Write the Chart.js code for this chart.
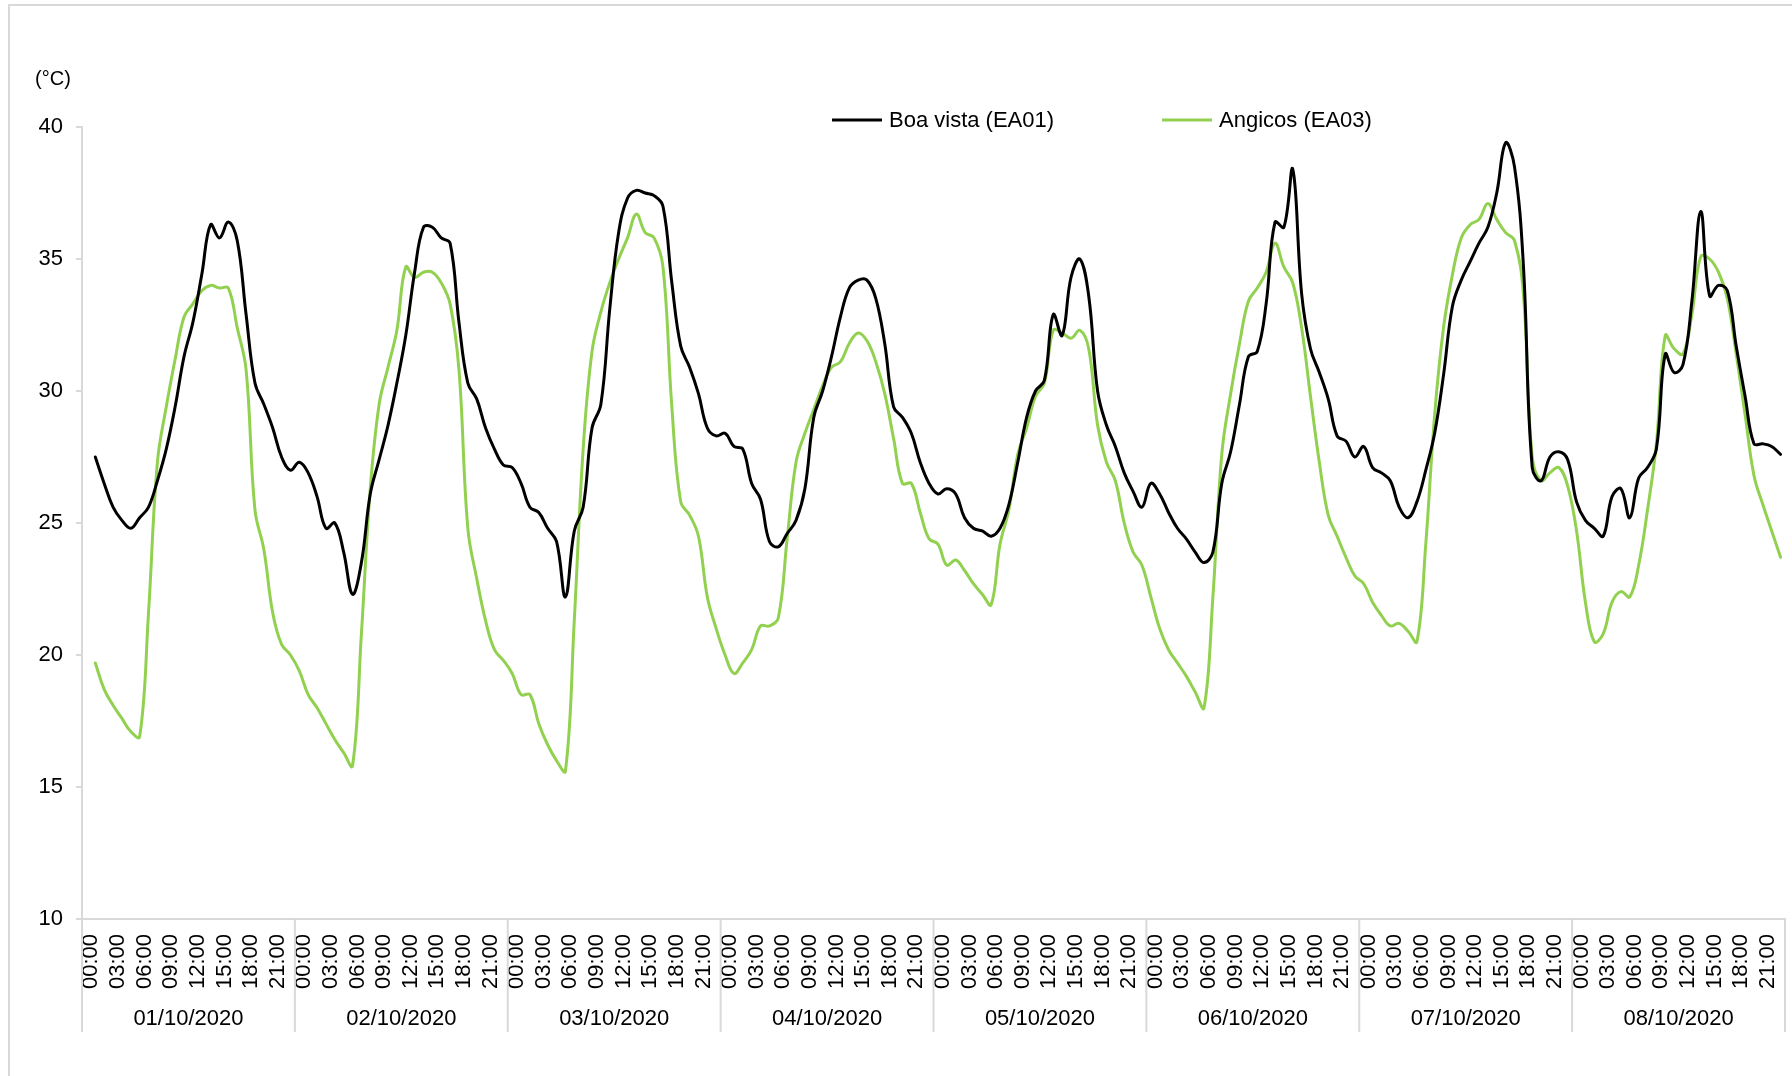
<!DOCTYPE html>
<html>
<head>
<meta charset="utf-8">
<script src="https://cdn.jsdelivr.net/npm/chart.js@4.4.1/dist/chart.umd.min.js"></script>
<style>
  html, body { margin: 0; padding: 0; background: #ffffff; }
  canvas { display: block; }
</style>
</head>
<body>
<canvas id="chart" width="1792" height="1076"></canvas>
<script>
// Hourly air temperature, 01–08 Oct 2020
const days = ['01/10/2020', '02/10/2020', '03/10/2020', '04/10/2020',
              '05/10/2020', '06/10/2020', '07/10/2020', '08/10/2020'];
const hours = ['00:00', '01:00', '02:00', '03:00', '04:00', '05:00', '06:00', '07:00',
               '08:00', '09:00', '10:00', '11:00', '12:00', '13:00', '14:00', '15:00',
               '16:00', '17:00', '18:00', '19:00', '20:00', '21:00', '22:00', '23:00'];
const yTicks = [10, 15, 20, 25, 30, 35, 40];
const unitLabel = '(°C)';
const seriesNames = ['Boa vista (EA01)', 'Angicos (EA03)'];

// Boa vista (EA01), °C, one value per hour (first hour not recorded)
const boaVista = [
  null, 27.5, 26.5, 25.6, 25.1, 24.8, 25.2, 25.6, 26.6, 27.8, 29.4, 31.3, 32.6, 34.4, 36.3, 35.8, 36.4, 35.7, 32.9, 30.3, 29.5, 28.6, 27.5, 27.0,
  27.3, 26.9, 26.0, 24.8, 25.0, 23.9, 22.3, 23.5, 26.1, 27.4, 28.7, 30.3, 32.1, 34.5, 36.2, 36.2, 35.8, 35.6, 32.6, 30.3, 29.7, 28.6, 27.8, 27.2,
  27.1, 26.5, 25.6, 25.4, 24.8, 24.3, 22.2, 24.7, 25.6, 28.6, 29.5, 33.1, 36.0, 37.3, 37.6, 37.5, 37.4, 37.0, 34.1, 31.7, 30.9, 29.9, 28.6, 28.3,
  28.4, 27.9, 27.8, 26.5, 25.9, 24.3, 24.1, 24.6, 25.1, 26.3, 29.0, 30.0, 31.3, 32.8, 33.9, 34.2, 34.2, 33.5, 31.8, 29.4, 29.0, 28.4, 27.3, 26.5,
  26.1, 26.3, 26.1, 25.2, 24.8, 24.7, 24.5, 24.8, 25.7, 27.3, 29.0, 30.0, 30.4, 32.9, 32.1, 34.3, 35.0, 33.6, 30.0, 28.7, 27.9, 26.9, 26.2, 25.6,
  26.5, 26.1, 25.4, 24.8, 24.4, 23.9, 23.5, 23.9, 26.5, 27.7, 29.5, 31.3, 31.5, 33.3, 36.4, 36.2, 38.4, 33.7, 31.6, 30.7, 29.7, 28.3, 28.1, 27.5,
  27.9, 27.1, 26.9, 26.6, 25.6, 25.2, 25.8, 27.0, 28.4, 30.6, 33.2, 34.2, 34.9, 35.6, 36.2, 37.5, 39.4, 38.5, 34.8, 27.1, 26.6, 27.5, 27.7, 27.4,
  25.8, 25.1, 24.8, 24.5, 26.0, 26.3, 25.2, 26.7, 27.1, 27.8, 31.4, 30.7, 31.0, 33.4, 36.8, 33.6, 34.0, 33.8, 31.7, 29.8, 28.0, 28.0, 27.9, 27.6
];

// Angicos (EA03), °C, one value per hour (first hour not recorded)
const angicos = [
  null, 19.7, 18.7, 18.1, 17.6, 17.1, 16.9, 21.6, 27.3, 29.4, 31.2, 32.8, 33.3, 33.8, 34.0, 33.9, 33.9, 32.4, 30.8, 25.5, 24.0, 21.6, 20.4, 20.0,
  19.4, 18.5, 18.0, 17.4, 16.8, 16.3, 15.8, 20.8, 26.3, 29.5, 30.9, 32.3, 34.7, 34.3, 34.5, 34.5, 34.1, 33.3, 30.8, 24.8, 22.9, 21.3, 20.2, 19.8,
  19.3, 18.5, 18.5, 17.4, 16.6, 16.0, 15.6, 21.3, 27.8, 31.5, 33.0, 34.1, 35.0, 35.8, 36.7, 36.0, 35.8, 34.7, 29.4, 25.8, 25.3, 24.5, 22.2, 21.0,
  20.0, 19.3, 19.7, 20.2, 21.1, 21.1, 21.4, 24.4, 27.3, 28.4, 29.3, 30.2, 30.9, 31.1, 31.8, 32.2, 31.9, 31.1, 29.9, 28.2, 26.5, 26.5, 25.4, 24.4,
  24.2, 23.4, 23.6, 23.2, 22.7, 22.3, 21.9, 24.2, 25.5, 27.6, 28.6, 29.8, 30.3, 32.3, 32.2, 32.0, 32.3, 31.6, 28.7, 27.3, 26.6, 25.0, 23.9, 23.4,
  22.2, 21.0, 20.2, 19.7, 19.2, 18.6, 18.0, 22.2, 27.6, 29.9, 31.8, 33.4, 33.9, 34.5, 35.6, 34.7, 34.1, 32.4, 29.8, 27.3, 25.3, 24.5, 23.7, 23.0,
  22.7, 22.0, 21.5, 21.1, 21.2, 20.9, 20.5, 24.2, 29.1, 32.4, 34.4, 35.8, 36.3, 36.5, 37.1, 36.5, 36.0, 35.7, 33.7, 27.5, 26.6, 26.9, 27.1, 26.4,
  24.7, 22.0, 20.5, 20.8, 22.0, 22.4, 22.2, 23.4, 25.5, 28.0, 32.1, 31.6, 31.4, 32.9, 35.1, 35.0, 34.5, 33.5, 31.4, 29.1, 26.8, 25.7, 24.7, 23.7
];

const labels = [];
days.forEach(d => hours.forEach(h => labels.push(d + ' ' + h)));

const FONT = 'Liberation Sans, Arial, sans-serif';
const AXIS_GREY = '#D9D9D9';

// Frame, unit label, legend, day separators and date row
const decorations = {
  id: 'decorations',
  beforeDraw(chart) {
    const ctx = chart.ctx;
    ctx.save();
    ctx.strokeStyle = AXIS_GREY;
    ctx.lineWidth = 2;
    ctx.beginPath();
    ctx.moveTo(9, chart.height);
    ctx.lineTo(9, 5);
    ctx.lineTo(chart.width, 5);
    ctx.stroke();
    ctx.restore();
  },
  afterDraw(chart) {
    const ctx = chart.ctx;
    const x = chart.scales.x;
    const area = chart.chartArea;
    ctx.save();

    // unit label above the value axis
    ctx.fillStyle = '#000';
    ctx.font = '20px ' + FONT;
    ctx.textAlign = 'center';
    ctx.textBaseline = 'middle';
    ctx.fillText(unitLabel, 53, 79);

    // legend
    const legendItems = [{ x: 832 }, { x: 1162 }];
    ctx.font = '22px ' + FONT;
    ctx.textAlign = 'left';
    chart.data.datasets.forEach((ds, k) => {
      const lx = legendItems[k].x, ly = 120;
      ctx.strokeStyle = ds.borderColor;
      ctx.lineWidth = 3;
      ctx.beginPath();
      ctx.moveTo(lx, ly);
      ctx.lineTo(lx + 50, ly);
      ctx.stroke();
      ctx.fillStyle = '#000';
      ctx.fillText(ds.label, lx + 57, ly + 1);
    });

    // day separators and date labels
    const perDay = hours.length;
    const bounds = [];
    for (let d = 0; d <= days.length; d++) {
      if (d === 0) bounds.push(x.left);
      else if (d === days.length) bounds.push(x.right);
      else bounds.push((x.getPixelForValue(d * perDay - 1) + x.getPixelForValue(d * perDay)) / 2);
    }
    ctx.strokeStyle = AXIS_GREY;
    ctx.lineWidth = 2;
    bounds.forEach(bx => {
      ctx.beginPath();
      ctx.moveTo(bx, area.bottom);
      ctx.lineTo(bx, area.bottom + 113);
      ctx.stroke();
    });
    ctx.fillStyle = '#000';
    ctx.font = '22px ' + FONT;
    ctx.textAlign = 'center';
    ctx.textBaseline = 'middle';
    days.forEach((d, k) => {
      ctx.fillText(d, (bounds[k] + bounds[k + 1]) / 2, area.bottom + 100);
    });
    ctx.restore();
  }
};

new Chart(document.getElementById('chart'), {
  type: 'line',
  data: {
    labels: labels,
    datasets: [
      { label: seriesNames[0], data: boaVista, borderColor: '#000000', borderWidth: 3 },
      { label: seriesNames[1], data: angicos, borderColor: '#92D050', borderWidth: 3 }
    ]
  },
  options: {
    responsive: false,
    animation: false,
    devicePixelRatio: 1,
    layout: { padding: { top: 127, right: 7, left: 0, bottom: 0 } },
    elements: {
      point: { radius: 0 },
      line: { tension: 0.4, borderCapStyle: 'round', borderJoinStyle: 'round', fill: false }
    },
    plugins: {
      legend: { display: false },
      tooltip: { enabled: false }
    },
    scales: {
      x: {
        type: 'category',
        offset: true,
        grid: { display: false, drawTicks: false },
        border: { display: true, color: AXIS_GREY, width: 2 },
        ticks: {
          autoSkip: false,
          minRotation: 90,
          maxRotation: 90,
          padding: 15,
          labelOffset: 5,
          color: '#000',
          font: { family: FONT, size: 22 },
          callback: (v, i) => (i % 3 === 0 ? hours[i % hours.length] : '')
        },
        afterFit: s => { s.height = 157; s.paddingLeft = 0; s.paddingRight = 0; }
      },
      y: {
        min: 10,
        max: 40,
        afterBuildTicks: s => { s.ticks = yTicks.map(v => ({ value: v })); },
        grid: { drawOnChartArea: false, drawTicks: true, tickLength: 6, color: AXIS_GREY, lineWidth: 2 },
        border: { display: true, color: AXIS_GREY, width: 2 },
        ticks: { padding: 13, color: '#000', font: { family: FONT, size: 22 } },
        afterFit: s => { s.width = 82; }
      }
    }
  },
  plugins: [decorations]
});
</script>
</body>
</html>
